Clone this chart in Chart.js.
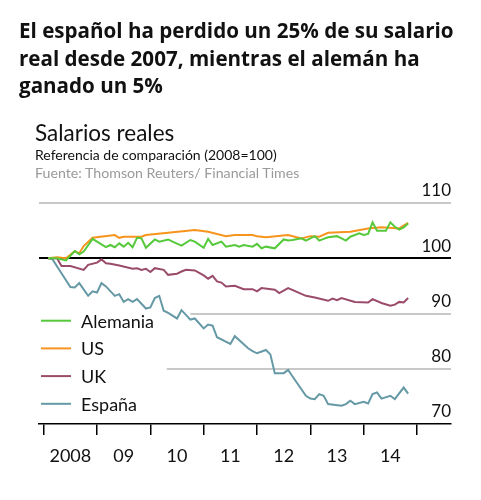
<!DOCTYPE html>
<html>
<head>
<meta charset="utf-8">
<script src="https://cdn.jsdelivr.net/npm/chart.js@4"></script>
<style>
  body { margin: 0; background: #fff; }
  #wrap { position: relative; width: 481px; height: 500px; overflow: hidden; }
  #chart { position: absolute; left: 0; top: 0; }
  .txt { position: absolute; white-space: nowrap; line-height: 1; }
  #headline { left: 19px; top: 17px; font: bold 20.6px "Open Sans", sans-serif; line-height: 27.5px; color: #111; }
  #title { left: 35px; top: 119px; font: 22.5px Lato, sans-serif; color: #111; }
  #subtitle { left: 35px; top: 146px; font: 14px Lato, sans-serif; color: #111; }
  #source { left: 35px; top: 164px; font: 14.2px Lato, sans-serif; color: #9a9a9a; }
</style>
</head>
<body>
<div id="wrap">
  <canvas id="chart" width="481" height="500"></canvas>
  <div class="txt" id="headline">El español ha perdido un 25% de su salario<br>real desde 2007, mientras el alemán ha<br>ganado un 5%</div>
  <div class="txt" id="title">Salarios reales</div>
  <div class="txt" id="subtitle">Referencia de comparación (2008=100)</div>
  <div class="txt" id="source">Fuente: Thomson Reuters/ Financial Times</div>
</div>
<script>
// months counted from January 2008 (0 = Jan 2008)
const yearLabels = ['2008', '09', '10', '11', '12', '13', '14'];

const deMonths = [1, 3, 5, 7, 8, 9, 11, 14, 15, 16, 17, 18, 19, 20, 21, 22, 23, 25, 26, 28, 29, 31, 33, 34, 36, 37, 38, 40, 41, 43, 44, 45, 47, 48, 49, 50, 52, 54, 55, 56, 58, 59, 61, 62, 63, 64, 66, 68, 69, 71, 72, 73, 74, 75, 77, 78, 79, 80, 81, 82];
const deValues = [100.0, 100.0, 99.6, 101.3, 100.7, 101.2, 103.5, 102.0, 102.4, 102.0, 102.7, 102.1, 102.8, 102.0, 103.7, 103.6, 101.9, 103.4, 103.0, 103.4, 103.0, 102.3, 103.3, 103.0, 101.9, 103.5, 102.4, 103.0, 102.1, 102.4, 102.1, 102.4, 102.1, 102.6, 101.8, 102.1, 101.8, 103.4, 103.2, 103.3, 103.6, 103.2, 104.0, 103.2, 103.5, 103.8, 104.0, 103.2, 103.9, 104.5, 104.2, 104.4, 106.5, 105.0, 105.0, 106.5, 105.7, 105.2, 105.6, 106.3];

const usMonths = [1, 3, 5, 7, 8, 9, 11, 16, 17, 18, 22, 23, 28, 34, 37, 41, 43, 47, 48, 50, 55, 58, 60, 62, 64, 69, 73, 76, 80, 82];
const usValues = [100.0, 100.2, 100.0, 101.3, 100.9, 102.2, 103.7, 104.2, 103.7, 103.9, 103.9, 104.2, 104.6, 105.1, 104.8, 104.0, 104.2, 104.2, 104.0, 103.8, 104.2, 103.6, 104.0, 103.9, 104.6, 104.8, 105.4, 105.6, 105.4, 106.4];

const ukMonths = [1, 3, 4, 6, 9, 10, 12, 13, 14, 15, 17, 20, 21, 22, 23, 24, 25, 27, 28, 30, 31, 32, 34, 36, 37, 38, 39, 40, 41, 43, 45, 47, 48, 49, 52, 53, 55, 59, 61, 64, 65, 66, 67, 70, 73, 74, 76, 78, 79, 80, 81, 82];
const ukValues = [100.0, 100.0, 98.6, 98.6, 97.9, 98.8, 99.2, 99.8, 99.1, 99.0, 98.7, 98.1, 98.2, 97.9, 98.1, 97.5, 98.2, 97.9, 97.0, 97.2, 97.6, 97.9, 97.8, 96.9, 96.3, 96.8, 95.8, 95.6, 94.9, 95.0, 94.4, 94.4, 94.0, 94.6, 94.3, 93.7, 94.6, 93.2, 92.9, 92.3, 92.7, 92.4, 92.8, 92.1, 92.0, 92.6, 91.9, 91.4, 91.6, 92.1, 92.0, 92.8];

const esMonths = [1, 2, 4, 6, 7, 8, 10, 11, 12, 13, 14, 16, 17, 18, 19, 20, 21, 23, 24, 25, 26, 27, 28, 30, 31, 33, 34, 36, 37, 38, 39, 42, 43, 46, 47, 48, 50, 51, 52, 54, 55, 56, 59, 60, 61, 62, 63, 64, 67, 68, 69, 70, 72, 73, 74, 75, 76, 78, 79, 81, 82];
const esValues = [100.0, 99.8, 97.3, 94.8, 94.7, 95.5, 93.2, 94.0, 93.8, 95.5, 94.9, 93.2, 93.5, 92.1, 92.6, 92.1, 92.6, 90.9, 91.1, 92.8, 93.2, 90.5, 90.1, 89.1, 90.6, 88.9, 89.1, 87.3, 88.0, 87.8, 85.7, 84.5, 85.9, 83.7, 83.2, 82.8, 83.4, 82.6, 79.2, 79.2, 79.8, 78.6, 75.1, 74.6, 74.5, 75.4, 75.1, 73.6, 73.3, 73.6, 74.2, 73.6, 74.0, 73.7, 75.4, 75.7, 74.6, 75.1, 74.5, 76.6, 75.5];

function points(months, values) {
    return months.map((m, i) => ({ x: m, y: values[i] }));
}

// reference lines, some of them stop short of the inline legend
const refLines = {
    id: 'refLines',
    beforeDatasetsDraw(chart, args, opts) {
        const { ctx, chartArea, scales } = chart;
        opts.lines.forEach(l => {
            const py = Math.round(scales.y.getPixelForValue(l.value));
            const x0 = l.from == null ? chartArea.left : scales.x.getPixelForValue(l.from);
            ctx.save();
            ctx.strokeStyle = l.color;
            ctx.lineWidth = l.width;
            ctx.beginPath();
            ctx.moveTo(x0, py);
            ctx.lineTo(chartArea.right, py);
            ctx.stroke();
            ctx.restore();
        });
    }
};

const inlineLegend = {
    id: 'inlineLegend',
    afterDraw(chart, args, opts) {
        const { ctx, chartArea } = chart;
        ctx.save();
        ctx.font = opts.font;
        ctx.textBaseline = 'middle';
        ctx.fillStyle = opts.color;
        chart.data.datasets.forEach((ds, i) => {
            const yy = chartArea.top + opts.top + i * opts.spacing;
            const xx = chartArea.left + opts.left;
            ctx.strokeStyle = ds.borderColor;
            ctx.lineWidth = 2;
            ctx.beginPath();
            ctx.moveTo(xx, yy);
            ctx.lineTo(xx + opts.lineLength, yy);
            ctx.stroke();
            ctx.fillText(ds.label, xx + opts.lineLength + opts.gap, yy + 1);
        });
        ctx.restore();
    }
};

Chart.defaults.font.family = 'Lato, sans-serif';

new Chart(document.getElementById('chart'), {
    type: 'line',
    data: {
        datasets: [
            { label: 'Alemania', data: points(deMonths, deValues), borderColor: '#55c93a' },
            { label: 'US', data: points(usMonths, usValues), borderColor: '#f7941e' },
            { label: 'UK', data: points(ukMonths, ukValues), borderColor: '#9a4b69' },
            { label: 'España', data: points(esMonths, esValues), borderColor: '#6699a6' }
        ]
    },
    options: {
        responsive: false,
        animation: false,
        layout: { padding: { left: 39, right: 30, top: 203, bottom: 0 } },
        elements: {
            line: { borderWidth: 2, tension: 0, fill: false },
            point: { radius: 0 }
        },
        plugins: {
            legend: { display: false },
            tooltip: { enabled: false },
            refLines: {
                lines: [
                    { value: 110, color: '#c8c8c8', width: 2 },
                    { value: 90, from: 33, color: '#c8c8c8', width: 2 },
                    { value: 80, from: 27.7, color: '#c8c8c8', width: 2 },
                    { value: 100, color: '#000', width: 2 }
                ]
            },
            inlineLegend: {
                font: '18px Lato, sans-serif', color: '#111',
                top: 117.7, spacing: 27.7, left: 2, lineLength: 30, gap: 10
            }
        },
        scales: {
            x: {
                type: 'linear',
                min: -1.06,
                max: 91.65,
                afterFit: s => { s.height = 76; },
                afterBuildTicks: s => {
                    const t = [];
                    yearLabels.forEach((lab, i) => { t.push({ value: i * 12 }, { value: i * 12 + 6 }); });
                    t.push({ value: yearLabels.length * 12 });
                    s.ticks = t;
                },
                ticks: {
                    autoSkip: false,
                    maxRotation: 0,
                    padding: 10,
                    color: '#111',
                    font: { size: 18 },
                    callback: v => (v % 12 === 6 ? yearLabels[(v - 6) / 12] : '')
                },
                grid: {
                    drawOnChartArea: false,
                    tickLength: 11,
                    lineWidth: 1.5,
                    color: c => (c.tick && c.tick.value % 12 === 0 ? '#000' : 'rgba(0,0,0,0)')
                },
                border: { display: true, color: '#000', width: 1.5 }
            },
            y: {
                position: 'right',
                min: 70,
                max: 110,
                afterFit: s => { s.width = 0; },
                ticks: {
                    stepSize: 10,
                    mirror: true,
                    padding: 0,
                    labelOffset: -12,
                    color: '#111',
                    font: { size: 17 }
                },
                grid: { display: false },
                border: { display: false }
            }
        }
    },
    plugins: [refLines, inlineLegend]
});
</script>
</body>
</html>
